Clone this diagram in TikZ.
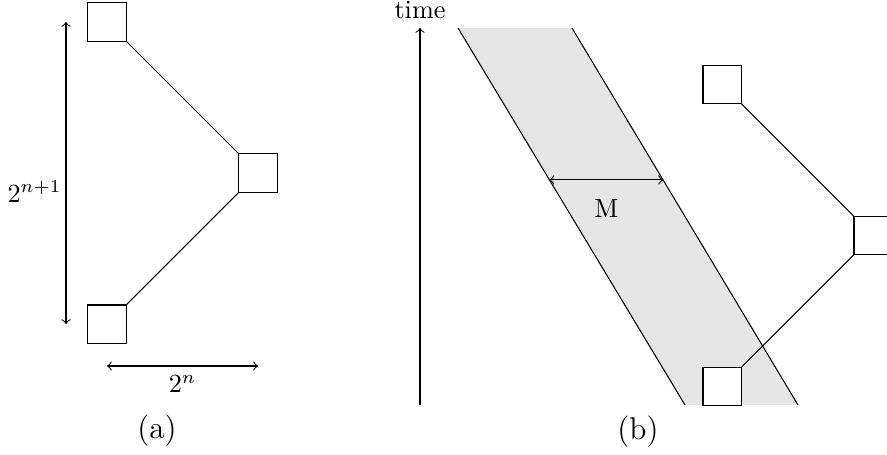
\documentclass[tikz,border=0pt]{standalone}
\usepackage{amsmath}
\usetikzlibrary{calc}

\begin{document}
\begin{tikzpicture}[
    x=0.0134cm, y=-0.0134cm,
    box/.style={rectangle, draw, fill=white, minimum size=0.51cm, inner sep=0pt},
    band/.style={fill=gray!20},
    arrow/.style={<->},
    caption/.style={font=\large}
]
    \useasboundingbox (0,0) rectangle (887,454);
    % band for (b)
    \coordinate (btl) at (458,28);
    \coordinate (btr) at (572,28);
    \coordinate (bbl) at (685,405);
    \coordinate (bbr) at (798,405);
    \fill [band] (btl) -- (btr) -- (bbr) -- (bbl) -- cycle;
    \draw (btl) -- (bbl);
    \draw (btr) -- (bbr);
    \coordinate (ml) at ($(btl)!0.403!(bbl)$);
    \coordinate (mr) at ($(btr)!0.403!(bbr)$);
    \draw [arrow] (ml) -- node[below=4pt] {M} (mr);
    % time axis
    \coordinate (t0) at (420,405);
    \coordinate (t1) at (420,28);
    \draw [->] (t0) -- (t1) node[above] {time};
    % (a)
    \node [box] (topa) at (107,22) {};
    \node [box] (righta) at (258,173) {};
    \node [box] (bottoma) at (107,324) {};
    \draw (topa.south east) -- (righta.north west);
    \draw (righta.south west) -- (bottoma.north east);
    \coordinate (va) at (66,22);
    \coordinate (vb) at (66,324);
    \draw [arrow] (va) -- node[left, inner sep=1.5pt, yshift=-7pt] {$2^{n+1}$} (vb);
    \coordinate (ha) at (107,366);
    \coordinate (hb) at (258,366);
    \draw [arrow] (ha) -- node[below] {$2^{n}$} (hb);
    \node [caption] (capa) at (157,431) {(a)};
    % (b)
    \node [box] (topb) at (722,84.5) {};
    \node [box] (rightb) at (873,235.5) {};
    \node [box] (bottomb) at (722,386.5) {};
    \draw (topb.south east) -- (rightb.north west);
    \draw (rightb.south west) -- (bottomb.north east);
    \node [caption] (capb) at (638,432) {(b)};
\end{tikzpicture}
\end{document}
